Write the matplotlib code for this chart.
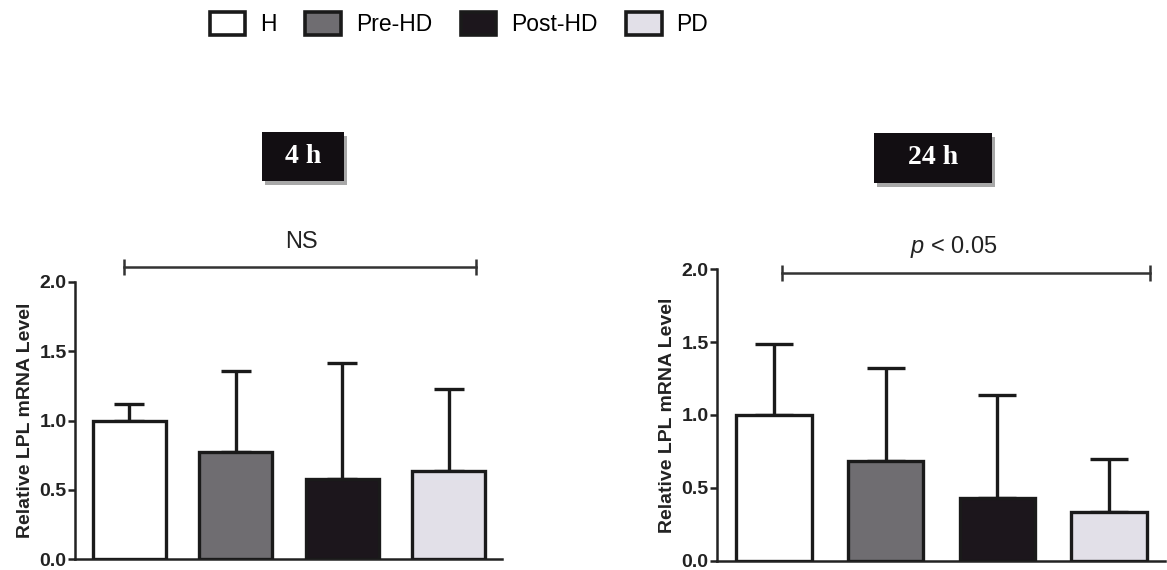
import matplotlib.pyplot as plt
import matplotlib.patches as mpatches
import numpy as np

plt.rcParams['font.family'] = ['Liberation Sans', 'DejaVu Sans']
plt.rcParams['mathtext.fontset'] = 'custom'
plt.rcParams['mathtext.it'] = 'Liberation Sans:italic'
plt.rcParams['mathtext.rm'] = 'Liberation Sans'

groups = ['H', 'Pre-HD', 'Post-HD', 'PD']
colors = ['#ffffff', '#6f6d71', '#1c161c', '#e2e0e8']

mean_4h = [1.00, 0.775, 0.578, 0.638]
err_4h = [0.12, 0.58, 0.84, 0.59]
mean_24h = [1.00, 0.68, 0.43, 0.33]
err_24h = [0.49, 0.64, 0.71, 0.37]

titles = ['4 h', '24 h']
stats = ['NS', '$p$ < 0.05']

W, H = 1167, 570
fig = plt.figure(figsize=(W / 100, H / 100), dpi=100)

def fx(px):
    return px / W

def fy(py):
    return 1 - py / H

edge = '#1a1a1a'

# axes rects in pixels: left, right, top(2.0), bottom(0.0)
rects = [(75, 502, 282, 559), (717, 1165, 269.3, 560.5)]
widths = [0.684, 0.676]
caps = [11, 13.5]
brackets = [(-0.05, 3.26, 2.108), (0.07, 3.37, 1.977)]
stat_pos = [(1.62, 2.29), (1.61, 2.153)]
boxes = [(262, 344, 132, 181), (874, 992, 133, 183)]

for i, (means, errs) in enumerate([(mean_4h, err_4h), (mean_24h, err_24h)]):
    l, r, t, b = rects[i]
    ax = fig.add_axes([fx(l), fy(b), fx(r - l), (b - t) / H])
    x = np.arange(len(groups))
    ax.bar(x, means, width=widths[i], color=colors, edgecolor=edge,
           linewidth=2.4, zorder=3)
    ax.errorbar(x, means, yerr=[np.zeros(len(errs)), errs], fmt='none',
                ecolor=edge, elinewidth=2.4, capsize=caps[i], capthick=2.4,
                zorder=2)
    ax.set_xlim(-0.51, 3.50)
    ax.set_ylim(0, 2.0)
    ax.set_yticks([0, 0.5, 1.0, 1.5, 2.0])
    ax.set_yticklabels(['0.0', '0.5', '1.0', '1.5', '2.0'])
    ax.set_xticks([])
    for s in ['top', 'right']:
        ax.spines[s].set_visible(False)
    for s in ['left', 'bottom']:
        ax.spines[s].set_linewidth(1.8)
        ax.spines[s].set_color('#222222')
    ax.tick_params(axis='y', length=5, width=1.8, color='#222222', pad=1,
                   labelsize=14)
    for lab in ax.get_yticklabels():
        lab.set_fontweight('bold')
        lab.set_color('#222222')
    ax.set_ylabel('Relative LPL mRNA Level', fontsize=14, fontweight='bold',
                  labelpad=4, color='#222222')
    ax.patch.set_alpha(0)

    x0, x1, yb = brackets[i]
    ax.plot([x0, x1], [yb, yb], color='#333333', lw=1.8, marker='|',
            markersize=11, markeredgewidth=1.8, clip_on=False)
    sx, sy = stat_pos[i]
    ax.text(sx, sy, stats[i], ha='center', va='center', fontsize=17,
            color='#222222', clip_on=False)

    # title box with shadow
    bl, br, bt, bb = boxes[i]
    shadow = mpatches.Rectangle((fx(bl + 3), fy(bb + 4)), fx(br - bl),
                                (bb - bt) / H, transform=fig.transFigure,
                                facecolor='#a8a8a8', edgecolor='none')
    box = mpatches.Rectangle((fx(bl), fy(bb)), fx(br - bl), (bb - bt) / H,
                             transform=fig.transFigure, facecolor='#120e12',
                             edgecolor='none')
    fig.patches.extend([shadow, box])
    fig.text(fx((bl + br) / 2), fy((bt + bb) / 2), titles[i], ha='center',
             va='center', color='white', fontsize=20, fontweight='bold',
             family='Liberation Serif')

handles = [mpatches.Patch(facecolor=c, edgecolor=edge, linewidth=2.6)
           for c in colors]
fig.legend(handles, groups, loc='center', bbox_to_anchor=(fx(459), fy(24)),
           ncol=4, frameon=False, handlelength=1.55, handleheight=1.2,
           handletextpad=0.65, columnspacing=1.25, fontsize=16.5)

fig.savefig('out.png', dpi=100)
